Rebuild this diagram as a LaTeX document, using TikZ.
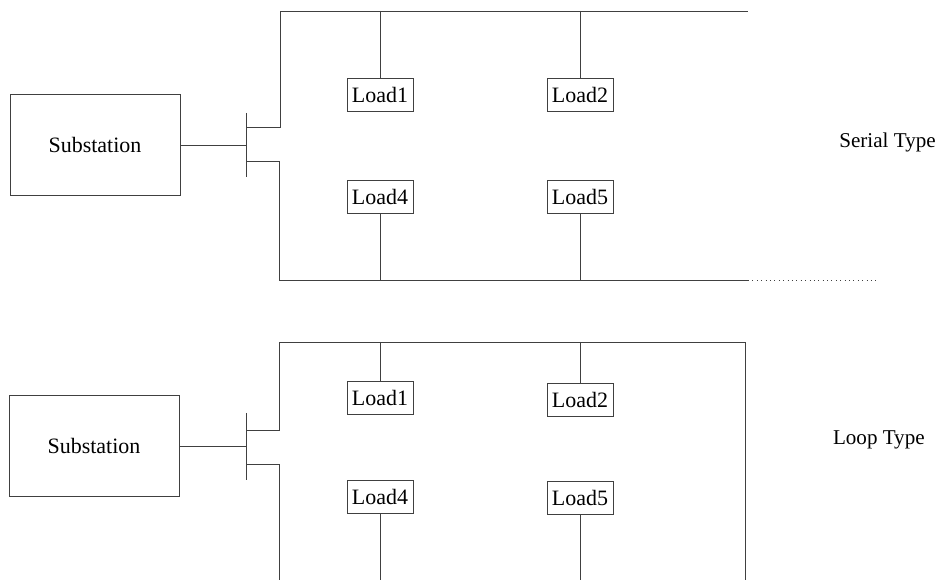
\documentclass[tikz,border=0pt]{standalone}
\usepackage{fontspec}
\setmainfont{Liberation Serif}
\usetikzlibrary{positioning}

\tikzset{
    wire/.style={line width=0.5pt, black!75},
    substation/.style={draw=black!75, line width=0.5pt, minimum width=3.4cm, minimum height=2.02cm, font=\fontsize{12.5}{14}\selectfont},
    loadbox/.style={draw=black!75, line width=0.5pt, minimum width=1.32cm, minimum height=0.66cm, inner sep=0pt, font=\fontsize{12.5}{14}\selectfont},
    typelabel/.style={anchor=east, inner sep=0pt, font=\fontsize{12}{14}\selectfont}
}

\begin{document}
\begin{tikzpicture}[x=0.02cm, y=-0.02cm]
    \useasboundingbox (0,0) rectangle (939,580);

    % Serial type
    \node[substation] (subA) at (95,145) {Substation};
    \coordinate (busAtop) at (246,113);
    \coordinate (busAbot) at (246,177);
    \draw[wire] (busAtop) -- (busAbot);
    \draw[wire] (subA.east) -- (subA.east -| busAtop);

    \node[loadbox] (A1) at (380,95) {Load1};
    \node[loadbox] (A2) at (580,95) {Load2};
    \node[loadbox] (A4) at (380,197) {Load4};
    \node[loadbox] (A5) at (580,197) {Load5};

    \coordinate (topA) at (280,11);
    \coordinate (endA) at (748,11);
    \coordinate (botA) at (279,280);
    \coordinate (endB) at (748,280);
    \coordinate (dotB) at (878,280);

    \draw[wire] (246,127) -| (topA) -- (endA);
    \draw[wire] (246,161) -| (botA) -- (endB);
    \draw[wire, dotted] (endB) -- (dotB);

    \draw[wire] (A1.north |- topA) -- (A1.north);
    \draw[wire] (A2.north |- topA) -- (A2.north);
    \draw[wire] (A4.south) -- (A4.south |- botA);
    \draw[wire] (A5.south) -- (A5.south |- botA);

    \node[typelabel] (serial) at (936,142) {Serial Type};

    % Loop type
    \node[substation] (subB) at (94,446) {Substation};
    \coordinate (busBtop) at (246,413);
    \coordinate (busBbot) at (246,480);
    \draw[wire] (busBtop) -- (busBbot);
    \draw[wire] (subB.east) -- (subB.east -| busBtop);

    \node[loadbox] (B1) at (380,398) {Load1};
    \node[loadbox] (B2) at (580,400) {Load2};
    \node[loadbox] (B4) at (380,497) {Load4};
    \node[loadbox] (B5) at (580,498) {Load5};

    \coordinate (topB) at (279,342);
    \coordinate (cornerB) at (745,342);
    \coordinate (footB) at (745,580);
    \coordinate (botB) at (279,580);

    \draw[wire] (246,430) -| (topB) -- (cornerB) -- (footB);
    \draw[wire] (246,464) -| (botB);

    \draw[wire] (B1.north |- topB) -- (B1.north);
    \draw[wire] (B2.north |- topB) -- (B2.north);
    \draw[wire] (B4.south) -- (B4.south |- botB);
    \draw[wire] (B5.south) -- (B5.south |- botB);

    \node[typelabel] (loop) at (925,440) {Loop Type};
\end{tikzpicture}
\end{document}
